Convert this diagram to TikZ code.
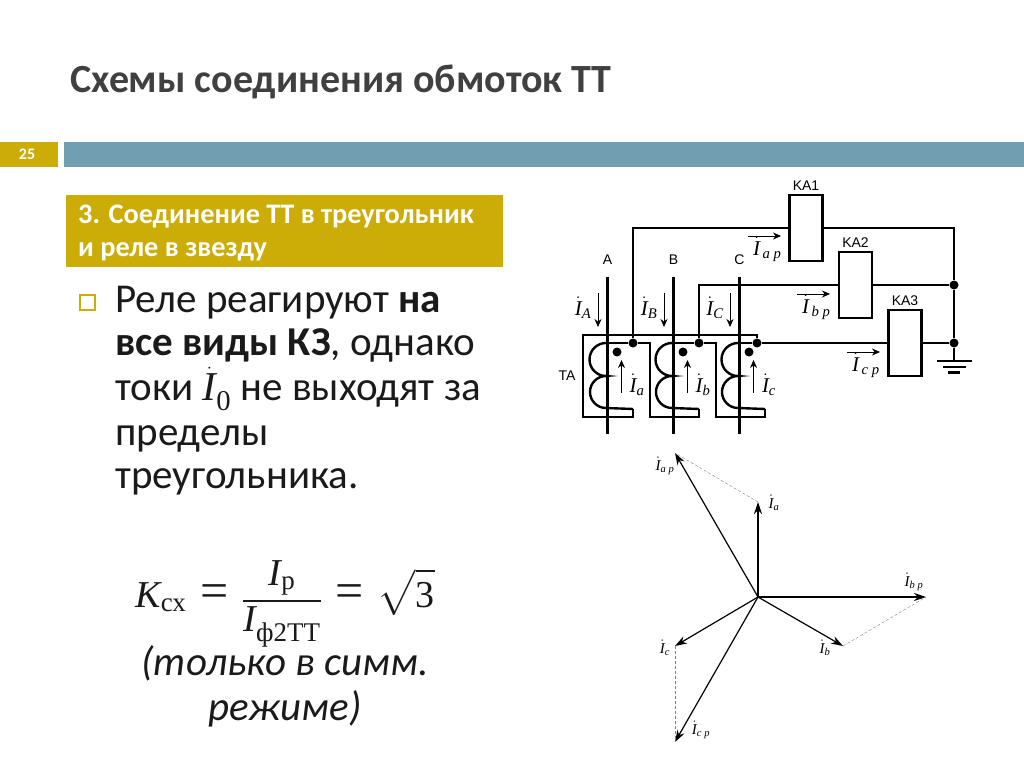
\documentclass[tikz,border=0pt]{standalone}
\usepackage{amsmath,amssymb}
\usepackage{fontspec}
\usetikzlibrary{arrows.meta,positioning}
\setmainfont{Carlito}
\newfontfamily\serifcyr{Liberation Serif}
\newfontfamily\labelfont{Liberation Sans}
\definecolor{gold}{HTML}{CCAD08}
\definecolor{teal}{HTML}{6F9FB0}
\definecolor{titlegray}{HTML}{404040}
\definecolor{bodygray}{HTML}{1A1A1A}
\newcommand{\ital}[1]{\text{\serifcyr\itshape #1}}
\newcommand{\rom}[1]{\text{\serifcyr\upshape #1}}
\newcommand{\subt}[1]{\text{\serifcyr\upshape\fontsize{27}{27}\selectfont #1}}
\newcommand{\eqs}{\;\mathrel{\text{\serifcyr\upshape\fontsize{50}{50}\selectfont =}}\;}
\newcommand{\Idot}[1]{$\dot{\ital{I}}_{\ital{#1}}$}
\newcommand{\Irel}[1]{$\dot{\ital{I}}_{\,\ital{#1}}$}
\tikzset{
    wire/.style={line width=2.4pt},
    relay/.style={draw,line width=2.4pt,minimum width=33pt,minimum height=66pt,inner sep=0pt,fill=white},
    junction/.style={circle,fill=black,inner sep=0pt,minimum size=9pt},
    cur/.style={-{Stealth[length=8pt,width=7pt]},line width=0.8pt},
    vec/.style={-{Stealth[length=12pt,width=8pt]},line width=1.2pt},
    help/.style={densely dashed,line width=0.4pt,gray},
    plate/.style={font=\labelfont\fontsize{14}{15}\selectfont,inner sep=0pt},
    curlabel/.style={inner sep=0pt,font=\fontsize{21}{22}\selectfont},
    veclabel/.style={inner sep=0pt,font=\fontsize{15}{16}\selectfont},
    line1/.style={anchor=base west,inner sep=0pt,text=bodygray,font=\fontsize{41}{43}\selectfont}
}
\begin{document}
\begin{tikzpicture}[x=1pt,y=-1pt]
    \useasboundingbox (0,0) rectangle (1024,767);
    % heading
    \node [anchor=base west,inner sep=0pt,text=titlegray,font=\bfseries\fontsize{40}{42}\selectfont] (title) at (70,93) {Схемы соединения обмоток ТТ};
    \fill [gold] (0,142) rectangle (58,167);
    \fill [teal] (64,142) rectangle (1024,167);
    \node [text=white,font=\bfseries\fontsize{16}{17}\selectfont,inner sep=0pt] (num) at (27,154) {25};
    \fill [gold] (66,195) rectangle (503,267);
    \node [anchor=base west,inner sep=0pt,text=white,font=\bfseries\fontsize{28.3}{30}\selectfont] (hdA) at (78,223) {3. Соединение ТТ в треугольник};
    \node [anchor=base west,inner sep=0pt,text=white,font=\bfseries\fontsize{28.3}{30}\selectfont] (hdB) at (78,256) {и реле в звезду};
    % text on the left
    \draw [gold,line width=1.5pt] (80,295) rectangle (95,310);
    \node [line1] (tA) at (115,312) {Реле реагируют \textbf{на}};
    \node [line1] (tB) at (115,355) {\textbf{все виды КЗ}, однако};
    \node [line1] (tC) at (115,400) {токи $\dot{\ital{I}}_{\rom{0}}$ не выходят за};
    \node [line1] (tD) at (115,445) {пределы};
    \node [line1] (tE) at (115,488) {треугольника.};
    \node [inner sep=0pt,text=bodygray,font=\fontsize{38}{40}\selectfont] (form) at (285,604)
        {$\ital{K}_{\subt{сх}}\eqs\dfrac{\ital{I}_{\subt{р}}}{\ital{I}_{\subt{ф2ТТ}}}\eqs\sqrt{\rom{3}}$};
    \node [inner sep=0pt,anchor=base,text=bodygray,font=\itshape\fontsize{41}{43}\selectfont] (noteA) at (285,675) {(только в симм.};
    \node [inner sep=0pt,anchor=base,text=bodygray,font=\itshape\fontsize{41}{43}\selectfont] (noteB) at (285,720) {режиме)};
    % phases
    \foreach \name/\x in {A/607.5,B/673.5,C/739.5} {
        \coordinate (top\name) at (\x,277);
        \coordinate (bot\name) at (\x,434);
        \draw [wire] (top\name) -- (bot\name);
        \node [plate] (lab\name) at (\x,260) {\name};
    }
    \node [plate] (labTA) at (567,376) {TA};
    % windings
    \foreach \name/\sub/\dx in {A/a/0,B/b/66,C/c/132} {
        \draw [wire] (606+\dx,343) arc (270:90:16.5) arc (270:90:16) -- (633+\dx,409);
        \node [junction] (mark\name) at (617+\dx,352) {};
        \coordinate (fromU\name) at (598+\dx,293);
        \coordinate (toU\name) at (598+\dx,327);
        \draw [cur] (fromU\name) -- (toU\name);
        \node [curlabel] (lab\name I) at (583+\dx,308) {\Idot{\name}};
        \coordinate (fromS\sub) at (621.5+\dx,393);
        \coordinate (toS\sub) at (621.5+\dx,360);
        \draw [cur] (fromS\sub) -- (toS\sub);
        \node [curlabel] (lab\sub) at (637+\dx,385) {\Idot{\sub}};
    }
    % delta
    \node [junction] (ja) at (633,343) {};
    \node [junction] (jb) at (699,343) {};
    \node [junction] (jc) at (757,343) {};
    \draw [wire] (jc) -- (757,335) -- (583,335) -- (583,417) -- (633,417) -- (633,409);
    \draw [wire] (606,343) -- (ja) -- (650,343) -- (650,417) -- (699,417) -- (699,409);
    \draw [wire] (672,343) -- (jb) -- (716,343) -- (716,417) -- (765,417) -- (765,409);
    \draw [wire] (738,343) -- (jc);
    % relays
    \node [relay] (KA1) at (806,228) {};
    \node [relay] (KA2) at (855.5,285) {};
    \node [relay] (KA3) at (905,343) {};
    \node [plate,above=3pt of KA1] (labKA1) {KA1};
    \node [plate,above=3pt of KA2] (labKA2) {KA2};
    \node [plate,above=3pt of KA3] (labKA3) {KA3};
    \node [junction] (jn2) at (954,285) {};
    \node [junction] (jn3) at (954,343) {};
    \coordinate (gnd) at (954,361);
    \draw [wire] (ja) |- (KA1.west);
    \draw [wire] (jb) |- (KA2.west);
    \draw [wire] (jc) -- (KA3.west);
    \draw [wire] (KA1.east) -| (jn2);
    \draw [wire] (KA2.east) -- (jn2);
    \draw [wire] (KA3.east) -- (jn3);
    \draw [wire] (jn2) -- (jn3) -- (gnd);
    \draw [wire] (937,361) -- (972,361);
    \draw [wire] (943,367) -- (966,367);
    \draw [wire] (948,372.5) -- (960,372.5);
    % relay currents
    \foreach \sub/\x/\y in {a/748/236,b/797/294,c/847/352} {
        \coordinate (fromR\sub) at (\x,\y);
        \coordinate (toR\sub) at (\x+33,\y);
        \draw [cur] (fromR\sub) -- (toR\sub);
        \node [curlabel,anchor=north west] (labR\sub) at (\x+5,\y+1) {\Irel{\sub\ p}};
    }
    % vectors
    \coordinate (O) at (758,597);
    \coordinate (va) at (758,502);
    \coordinate (vb) at (843,646);
    \coordinate (vc) at (675,646);
    \coordinate (vap) at (675,453);
    \coordinate (vbp) at (926,597);
    \coordinate (vcp) at (675,742);
    \draw [vec] (O) -- (va);
    \draw [vec] (O) -- (vb);
    \draw [vec] (O) -- (vc);
    \draw [vec] (O) -- (vap);
    \draw [vec] (O) -- (vbp);
    \draw [vec] (O) -- (vcp);
    \draw [help] (va) -- (vap);
    \draw [help] (vb) -- (vbp);
    \draw [help] (vc) -- (vcp);
    \node [veclabel] (la) at (774,503) {\Idot{a}};
    \node [veclabel] (lb) at (825,648) {\Idot{b}};
    \node [veclabel] (lc) at (665,648) {\Idot{c}};
    \node [veclabel] (lap) at (665,466) {\Idot{a p}};
    \node [veclabel] (lbp) at (914,582) {\Idot{b p}};
    \node [veclabel] (lcp) at (701,730) {\Idot{c p}};
\end{tikzpicture}
\end{document}
